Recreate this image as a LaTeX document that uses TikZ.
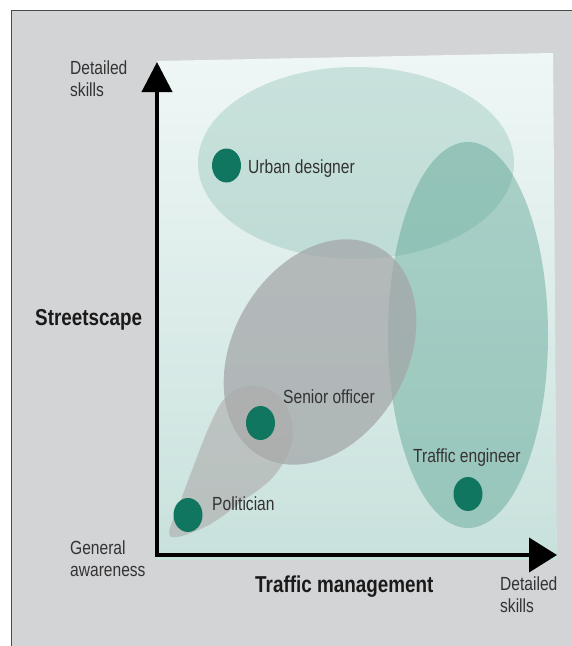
\documentclass[tikz,border=0pt]{standalone}
\usepackage{fontspec}
\setmainfont{Liberation Sans}
\newfontfamily\condfont[FakeStretch=0.82]{Liberation Sans}
\usetikzlibrary{arrows.meta}
\definecolor{panelgrey}{HTML}{D3D4D6}
\definecolor{panelborder}{HTML}{4A4A4A}
\definecolor{plottop}{HTML}{EFF7F6}
\definecolor{plotbot}{HTML}{C8E1DC}
\definecolor{urbanfill}{HTML}{7FB8AA}
\definecolor{trafficfill}{HTML}{4C9C89}
\definecolor{seniorfill}{HTML}{A3A5A7}
\definecolor{polfill}{HTML}{ADABAB}
\definecolor{dotgreen}{HTML}{10765F}
\definecolor{labeltext}{HTML}{333333}
\definecolor{axtext}{HTML}{1A1A1A}
\begin{document}
\begin{tikzpicture}[x=1pt,y=-1pt,
  lbl/.style={font=\condfont\fontsize{19}{22}\selectfont, text=labeltext, inner sep=0pt, anchor=base west},
  twoline/.style={font=\condfont\fontsize{19}{22}\selectfont, text=labeltext, inner sep=0pt, anchor=north west, align=left},
  axlbl/.style={font=\condfont\bfseries\fontsize{23}{26}\selectfont, text=axtext, inner sep=0pt, anchor=base west},
  dotmark/.style={fill=dotgreen},
  zone/.style={fill opacity=#1},
  axisline/.style={line width=4pt, line join=miter, {Triangle[length=30pt,width=30pt]}-{Triangle[length=28pt,width=34pt]}}]
\useasboundingbox (0,0) rectangle (572,646);
\fill[white] (0,0) rectangle (572,646);
% panel
\filldraw[fill=panelgrey, draw=panelborder, line width=1.5pt] (11.5,10.5) rectangle (590,670);
% plot area
\shade[top color=plottop, bottom color=plotbot] (157,61) -- (553,53) -- (557,560) -- (157,560) -- cycle;
% zones
\fill[urbanfill, zone=0.33] (356,163) ellipse [x radius=158pt, y radius=96pt];
\fill[trafficfill, zone=0.4] (468,335) ellipse [x radius=80pt, y radius=193pt];
\fill[seniorfill, zone=0.72, shift={(320,352)}, rotate=60] (0,0) ellipse [x radius=120pt, y radius=87pt];
\fill[polfill, zone=0.6] plot[smooth cycle, tension=0.6] coordinates {(170,536) (181,500) (194,465) (209,427) (225,398) (248,386) (274,392) (289,412) (292,442) (274,476) (240,503) (205,527)};
% dots
\fill[dotmark] (226.5,165.5) ellipse [x radius=14.5pt, y radius=17pt];
\fill[dotmark] (260.5,423) ellipse [x radius=14.5pt, y radius=17pt];
\fill[dotmark] (468,494) ellipse [x radius=14.5pt, y radius=17pt];
\fill[dotmark] (188,515) ellipse [x radius=14.5pt, y radius=17pt];
% labels
\node[lbl] (urban) at (248,173) {Urban designer};
\node[lbl] (senior) at (283,403) {Senior officer};
\node[lbl] (traffic) at (413,462) {Traffic engineer};
\node[lbl] (pol) at (212,510) {Politician};
% axes
\coordinate (ytop) at (157,62);
\coordinate (orig) at (157,555);
\coordinate (xend) at (557,555);
\draw[axisline] (ytop) -- (orig) -- (xend);
% axis labels
\node[twoline] (ydet) at (70,61) {Detailed\\skills};
\node[twoline] (gen) at (70,541) {General\\awareness};
\node[twoline] (xdet) at (500,577) {Detailed\\skills};
\node[axlbl] (street) at (35,325) {Streetscape};
\node[axlbl] (tm) at (255,592) {Traffic management};
\end{tikzpicture}
\end{document}
